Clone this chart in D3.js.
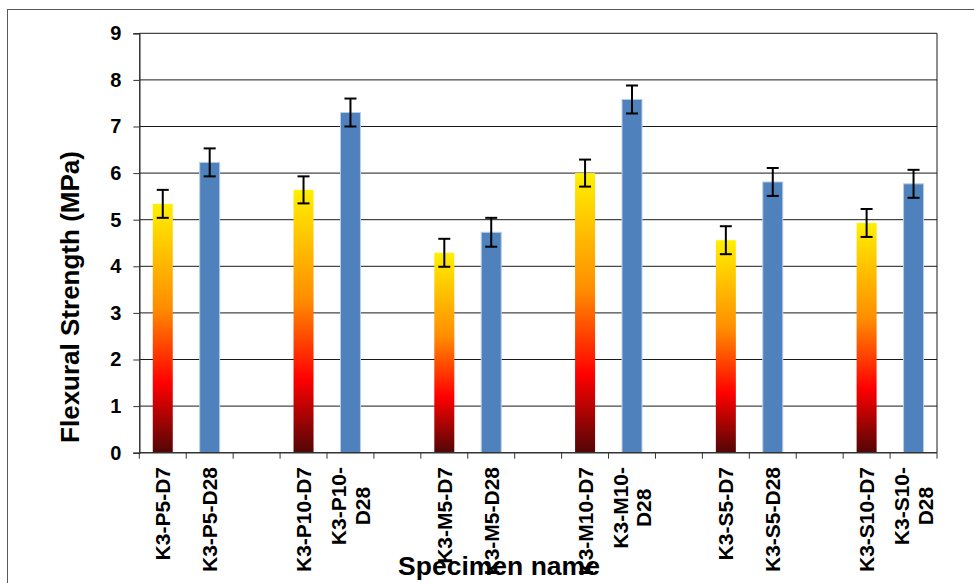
<!DOCTYPE html>
<html>
<head>
<meta charset="utf-8">
<script src="https://cdn.jsdelivr.net/npm/d3@7"></script>
<style>
  html, body { margin: 0; padding: 0; background: #fff; }
  svg { display: block; font-family: Arial, "Liberation Sans", sans-serif; }
</style>
</head>
<body>
<svg id="chart" width="974" height="583"></svg>
<script>
// ---- data ----
const categories = ["K3-P5-D7", "K3-P5-D28", "", "K3-P10-D7", "K3-P10-D28", "",
                    "K3-M5-D7", "K3-M5-D28", "", "K3-M10-D7", "K3-M10-D28", "",
                    "K3-S5-D7", "K3-S5-D28", "", "K3-S10-D7", "K3-S10-D28"];
const values = [5.34, 6.23, null, 5.64, 7.30, null,
                4.29, 4.73, null, 6.00, 7.58, null,
                4.56, 5.81, null, 4.93, 5.77];
const errors = [0.30, 0.30, null, 0.29, 0.30, null,
                0.30, 0.31, null, 0.29, 0.30, null,
                0.30, 0.30, null, 0.30, 0.30];
const yTicks = [0, 1, 2, 3, 4, 5, 6, 7, 8, 9];
const yTitle = "Flexural Strength (MPa)";
const xTitle = "Specimen name";

// ---- layout ----
const svg = d3.select("#chart");
const pLeft = 139.3, pRight = 937.0, pTop = 33.3, pBottom = 452.7;

const x = d3.scaleBand().domain(d3.range(categories.length)).range([pLeft, pRight]).padding(0);
const y = d3.scaleLinear().domain([0, 9]).range([pBottom, pTop]);
const barW = 20;

// outer frame
svg.append("rect").attr("x", 7.5).attr("y", 9.5).attr("width", 1000).attr("height", 1000)
  .attr("fill", "none").attr("stroke", "#595959").attr("stroke-width", 1);

// gradient (Excel "Fire"-like, per bar)
const defs = svg.append("defs");
const grad = defs.append("linearGradient").attr("id", "fire")
  .attr("x1", 0).attr("y1", 0).attr("x2", 0).attr("y2", 1);
[[0, "#FFF000"], [0.42, "#FF8C00"], [0.72, "#FF0000"], [1, "#520606"]].forEach(([o, c]) =>
  grad.append("stop").attr("offset", o).attr("stop-color", c));

// gridlines
svg.append("g").selectAll("line").data(yTicks.filter(t => t > 0)).join("line")
  .attr("x1", pLeft).attr("x2", pRight)
  .attr("y1", d => y(d)).attr("y2", d => y(d))
  .attr("stroke", "#1a1a1a").attr("stroke-width", 1);

// right border
svg.append("line").attr("x1", pRight).attr("x2", pRight).attr("y1", pTop).attr("y2", pBottom)
  .attr("stroke", "#1a1a1a").attr("stroke-width", 1);

// bars
const idx = d3.range(categories.length).filter(i => values[i] != null);
svg.append("g").selectAll("rect").data(idx).join("rect")
  .attr("x", i => x(i) + x.bandwidth() / 2 - barW / 2)
  .attr("width", barW)
  .attr("y", i => y(values[i]))
  .attr("height", i => y(0) - y(values[i]))
  .attr("fill", i => categories[i].endsWith("D7") ? "url(#fire)" : "#4F81BD")
  .attr("stroke", i => categories[i].endsWith("D7") ? "none" : "#B9CDE5")
  .attr("stroke-width", 1);

// error bars
const eb = svg.append("g").attr("stroke", "#000").attr("stroke-width", 2);
idx.forEach(i => {
  const cx = x(i) + x.bandwidth() / 2;
  const hi = y(values[i] + errors[i]), lo = y(values[i] - errors[i]);
  eb.append("line").attr("x1", cx).attr("x2", cx).attr("y1", hi).attr("y2", lo);
  eb.append("line").attr("x1", cx - 6).attr("x2", cx + 6).attr("y1", hi).attr("y2", hi);
  eb.append("line").attr("x1", cx - 6).attr("x2", cx + 6).attr("y1", lo).attr("y2", lo);
});

// y axis
const yAxis = svg.append("g").attr("transform", `translate(${pLeft},0)`)
  .call(d3.axisLeft(y).tickValues(yTicks).tickSize(6).tickPadding(12).tickFormat(d3.format("d")));
yAxis.select(".domain").attr("stroke", "#333").attr("stroke-width", 1.5);
yAxis.selectAll(".tick line").attr("stroke", "#333");
yAxis.selectAll(".tick text").attr("font-size", 20).attr("font-weight", "bold")
  .attr("fill", "#000").attr("font-family", "Arial, 'Liberation Sans', sans-serif");

// x axis line + ticks at band boundaries
svg.append("line").attr("x1", pLeft).attr("x2", pRight).attr("y1", pBottom).attr("y2", pBottom)
  .attr("stroke", "#333").attr("stroke-width", 1.5);
const bounds = d3.range(categories.length).map(i => x(i)).concat([x(categories.length - 1) + x.bandwidth()]);
svg.append("g").selectAll("line").data(bounds).join("line")
  .attr("x1", d => d).attr("x2", d => d).attr("y1", pBottom).attr("y2", pBottom + 6)
  .attr("stroke", "#333").attr("stroke-width", 1);

// x labels (rotated, wrapped when long)
const fs = 21, lineH = 23.7, labelTop = 467;
const meas = svg.append("text").attr("font-size", fs).attr("font-weight", "bold").attr("visibility", "hidden");
const textLen = s => { meas.text(s); return meas.node().getComputedTextLength(); };
categories.forEach((c, i) => {
  if (!c) return;
  let lines = [c];
  if (textLen(c) > 110) {
    const k = c.lastIndexOf("-");
    lines = [c.slice(0, k + 1), c.slice(k + 1)];
  }
  const L = d3.max(lines, textLen);
  const cx = x(i) + x.bandwidth() / 2;
  const g = svg.append("g").attr("transform", `translate(${cx},${labelTop + L / 2}) rotate(-90)`);
  lines.forEach((ln, j) => {
    g.append("text").attr("x", 0).attr("y", (j - (lines.length - 1) / 2) * lineH)
      .attr("dominant-baseline", "central").attr("text-anchor", "middle")
      .attr("font-size", fs).attr("font-weight", "bold").attr("fill", "#000").text(ln);
  });
});
meas.remove();

// axis titles
svg.append("text").attr("transform", "translate(70,297) rotate(-90)")
  .attr("text-anchor", "middle").attr("dominant-baseline", "central")
  .attr("font-size", 26).attr("font-weight", "bold").attr("fill", "#000").text(yTitle);
svg.append("text").attr("x", 499).attr("y", 575)
  .attr("text-anchor", "middle")
  .attr("font-size", 26.5).attr("font-weight", "bold").attr("fill", "#000").text(xTitle);
</script>
</body>
</html>
